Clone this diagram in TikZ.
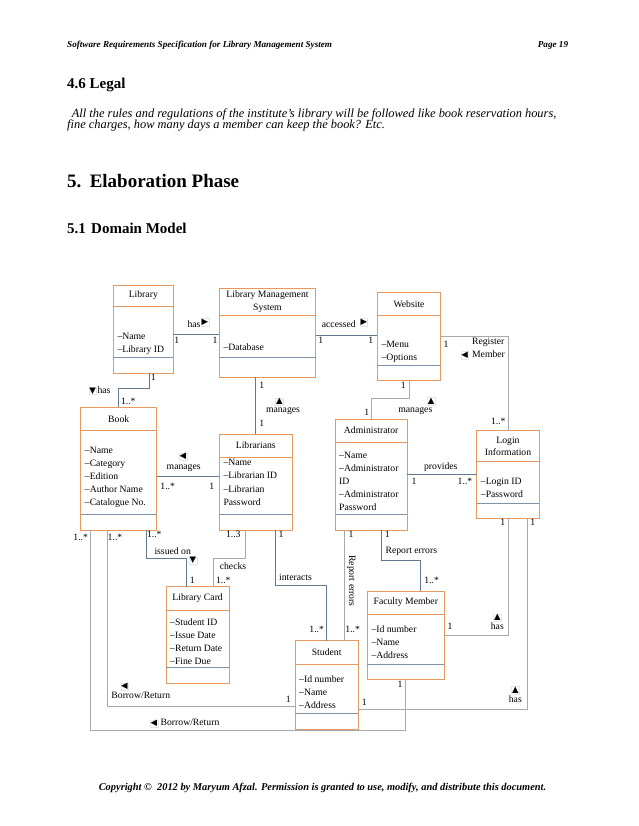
\documentclass[tikz,border=0pt]{standalone}
\usepackage{fontspec}
\setmainfont{Liberation Serif}
\newfontfamily\symfont{DejaVu Sans}
\usepackage{tikz}
\usetikzlibrary{positioning}
\definecolor{frameOrange}{RGB}{229,153, 94}
\definecolor{divSlate}   {RGB}{128,146,166}
\definecolor{linkSlate}  {RGB}{100,121,142}
\definecolor{linkGray}   {RGB}{165,170,176}

% class box: name, left, top, right, bottom, title rule, attribute rule, title
\newcommand{\umlbox}[8]{%
  \node[classframe, minimum width={#4pt-#2pt}, minimum height={#5pt-#3pt}] (#1) at (#2,#3) {};
  \draw[draw=frameOrange, line width=1pt] (#1.west |- 0,#6) -- (#1.east |- 0,#6);
  \draw[draw=divSlate, line width=0.7pt] (#1.west |- 0,#7) -- (#1.east |- 0,#7);
  \node[classtitle] (#1-title) at ({(#2+#4)/2},{(#3+#6)/2}) {#8};
}
% attributes: name, first baseline, list
\newcommand{\umlattrs}[3]{%
  \foreach \a [count=\i] in {#3}
    \node[attrtext] (#1-attr\i) at (#1.west |- 0,{#2+13.2*(\i-1)}) {\a};
}

\begin{document}
\begin{tikzpicture}[x=1pt,y=-1pt,
    boxfont/.style={font=\fontsize{9.7}{12.6}\selectfont},
    classframe/.style={draw=frameOrange, line width=1pt, fill=white, inner sep=0pt, outer sep=0pt, anchor=north west},
    classtitle/.style={boxfont, align=center, inner sep=0pt},
    attrtext/.style={boxfont, anchor=base west, inner sep=0pt, xshift=4pt},
    lbl/.style={boxfont, inner sep=0pt, text height=6.6pt, text depth=1.9pt},
    mult/.style={lbl},
    dirmark/.style={font=\symfont\fontsize{8.5}{8.5}\selectfont, inner sep=0.4pt, draw=gray!20, line width=0.3pt},
    link/.style={draw=linkSlate, line width=0.8pt},
    linklight/.style={draw=linkGray, line width=0.8pt}]
  \fill[white] (0,0) rectangle (638,826);
  \useasboundingbox (0,0) rectangle (638,826);

  % page text
  \node[anchor=base west, inner sep=0pt, font=\fontsize{9.15}{11}\selectfont\bfseries\itshape] (head) at (67,48)
    {Software Requirements Specification for Library Management System};
  \node[anchor=base east, inner sep=0pt, font=\fontsize{9.15}{11}\selectfont\bfseries\itshape] (page) at (568.3,48) {Page 19};
  \node[anchor=base west, inner sep=0pt, font=\fontsize{15}{18}\selectfont\bfseries] (legal) at (67,88.7) {4.6 Legal};
  \node[anchor=base west, inner sep=0pt, font=\fontsize{12.4}{13}\selectfont\itshape] (para1) at (71.7,117.3)
    {All the rules and regulations of the institute’s library will be followed like book reservation hours,};
  \node[anchor=base west, inner sep=0pt, font=\fontsize{12.4}{13}\selectfont\itshape] (para2) at (67,129)
    {fine charges, how many days a member can keep the book? Etc.};
  \node[anchor=base west, inner sep=0pt, font=\fontsize{19}{22}\selectfont\bfseries] (elab) at (67,187.5)
    {5.\hspace{2pt} Elaboration Phase};
  \node[anchor=base west, inner sep=0pt, font=\fontsize{15}{18}\selectfont\bfseries] (domain) at (67,233.3)
    {5.1\hspace{1.5pt} Domain Model};
  \node[anchor=base, inner sep=0pt, font=\fontsize{10.4}{12}\selectfont\bfseries\itshape] (copy) at (322.5,790)
    {Copyright ©\ \ 2012 by Maryum Afzal. Permission is granted to use, modify, and distribute this document.};

  % classes
  \umlbox{lib}{113.3}{285}{173.3}{373.3}{306}{357.7}{Library}
  \umlattrs{lib}{339.7}{–Name,–Library ID}
  \umlbox{lms}{219.3}{288.3}{315.7}{377.3}{315}{357.7}{Library Management\\System}
  \umlattrs{lms}{350.3}{–Database}
  \umlbox{web}{377.3}{292.7}{440.7}{380.7}{315}{365.7}{Website}
  \umlattrs{web}{347}{–Menu,–Options}
  \umlbox{book}{80.7}{407.3}{156.7}{530}{430.7}{514.3}{Book}
  \umlattrs{book}{453}{–Name,–Category,–Edition,–Author Name,–Catalogue No.}
  \umlbox{lbn}{219.3}{434}{292.3}{530}{457.3}{514.3}{Librarians}
  \umlattrs{lbn}{465.7}{–Name,–Librarian ID,–Librarian,Password}
  \umlbox{adm}{335}{419}{407.3}{530}{442.3}{514.3}{Administrator}
  \umlattrs{adm}{458}{–Name,–Administrator,ID,–Administrator,Password}
  \umlbox{login}{476.7}{430.7}{539.3}{518.3}{461.7}{503.3}{Login\\Information}
  \umlattrs{login}{484.7}{–Login ID,–Password}
  \umlbox{card}{166}{586.7}{229.3}{683.3}{610}{667.3}{Library Card}
  \umlattrs{card}{625.3}{–Student ID,–Issue Date,–Return Date,–Fine Due}
  \umlbox{stu}{295}{640.7}{358.3}{729.3}{664}{713.3}{Student}
  \umlattrs{stu}{682.3}{–Id number,–Name,–Address}
  \umlbox{fac}{367.3}{591}{444.3}{679.3}{614.3}{664.3}{Faculty Member}
  \umlattrs{fac}{632.3}{–Id number,–Name,–Address}

  % associations
  \draw[link] (lib.east |- 0,334.3) -- (lms.west |- 0,334.3);
  \draw[link] (lms.east |- 0,335) -- (web.west |- 0,335);
  \draw[link] (lib.south -| 149.3,0) -- (149.3,388.3) -| (book.north -| 118.3,0);
  \draw[link] (lms.south -| 255.7,0) -- (lbn.north -| 255.7,0);
  \draw[linklight] (web.south -| 409.3,0) -- (409.3,398.8) -| (adm.north -| 371.7,0);
  \draw[linklight] (web.east |- 0,336.7) -| (login.north -| 508.3,0);
  \draw[link] (book.east |- 0,476) -- (lbn.west |- 0,476);
  \draw[link] (adm.east |- 0,474) -- (login.west |- 0,474);
  \draw[link] (book.south -| 146.7,0) -- (146.7,558.3) -| (card.north -| 186.7,0);
  \draw[linklight] (lbn.south -| 245,0) -- (245,558.3) -| (card.north -| 213.3,0);
  \draw[link] (lbn.south -| 275,0) -- (275,585) -| (stu.north -| 326,0);
  \draw[linklight] (adm.south -| 344.3,0) -- (stu.north -| 344.3,0);
  \draw[link] (adm.south -| 381,0) -- (381,560) -| (fac.north -| 420.7,0);
  \draw[linklight] (login.south -| 508.3,0) |- (fac.east |- 0,635.7);
  \draw[linklight] (login.south -| 527.3,0) |- (stu.east |- 0,709.3);
  \draw[linklight] (book.south -| 107.3,0) |- (stu.west |- 0,706);
  \draw[linklight] (book.south -| 90.7,0) -- (90.7,730.7) -| (fac.south -| 405,0);

  % association names
  \foreach \t/\x/\y [count=\k] in {has/194/325, accessed/338.8/325, has/104/391, manages/283/410,
      manages/415.3/410, manages/183.7/467.3, provides/440.8/467.3, issued on/172.7/551.7,
      checks/233/566.7, interacts/295.5/578.3, Report errors/411.3/551, has/497.3/627.3, has/515.3/700}
    \node[lbl] (name\k) at (\x,\y) {\t};
  \node[lbl, align=left] (regmem) at (488.5,355) {Register\\Member};
  \node[lbl] (borrow1) at (140.8,696) {Borrow/Return};
  \node[lbl] (borrow2) at (190,723.3) {Borrow/Return};
  \node[lbl, rotate=-90] (report1) at (351.5,581) {Report errors};

  % reading directions
  \foreach \g/\x/\y [count=\k] in {▶/205/322, ▶/363.8/322.3, ▼/92.7/390.8, ◀/464.7/355,
      ▲/279.3/401.7, ▲/431.2/401, ◀/183/456.7, ▼/193/560.7, ▲/497.3/617.3,
      ▲/515.3/690, ◀/124.5/686.7, ◀/154/723.3}
    \node[dirmark] (dir\k) at (\x,\y) {\g};

  % multiplicities
  \foreach \m/\x/\y [count=\k] in {1/176.7/340.7, 1/215/340.7, 1/320.7/340.7, 1/370.7/340.7,
      1/153.3/378.3, 1..*/128.3/401.7, 1/261.7/385.7, 1/261.7/424.3, 1/403.3/385.7,
      1/366.7/413.3, 1/446/345, 1..*/498.3/421.7, 1..*/167.7/486.7, 1/211.7/486.7,
      1/414/481.7, 1..*/465/481.7, 1..*/80.7/538.3, 1..*/115/538.3, 1..*/154.3/535,
      1..3/233.3/535, 1/281/535, 1/192.3/581, 1..*/223.3/581, 1/351/535, 1/387.3/535,
      1..*/316.7/630, 1..*/352.7/630, 1..*/431.7/581, 1/502.7/523.3, 1/532.7/523.3,
      1/450/627.3, 1/364.3/703.3, 1/288.3/700, 1/400/685}
    \node[mult] (mult\k) at (\x,\y) {\m};
\end{tikzpicture}
\end{document}
